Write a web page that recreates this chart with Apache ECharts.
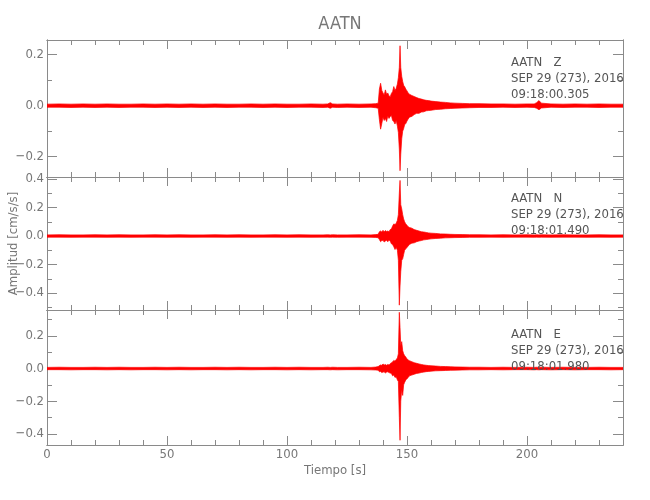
<!DOCTYPE html>
<html>
<head>
<meta charset="utf-8">
<script src="https://cdn.jsdelivr.net/npm/echarts@6/dist/echarts.min.js"></script>
<style>html,body{margin:0;padding:0;background:#fff}#c{width:650px;height:500px}</style>
</head>
<body>
<div id="c"></div>
<script>
// ---- data: envelope (max / min per time window) ----
const times = [
  0,5,10,15,20,25,30,35,
  40,45,50,55,60,65,70,75,
  80,85,90,95,100,105,110,115,
  117,118,119,121,125,130,135,137,
  138,138.5,139,139.5,140,140.5,141,141.5,
  142,142.5,143,143.5,144,144.5,145,145.5,
  146,146.4,146.8,147.1,147.4,147.8,148.2,148.6,
  149,149.5,150,150.5,151,152,153,154,
  155,156,157,158,159,160,
  162,164,166,168,170,173,176,180,
  185,190,195,200,203,204,205,206,
  210,215,220,225,230,235,240
];
const zHi = [
  .006,.007,.006,.007,.006,.007,.006,.006,
  .007,.006,.007,.006,.007,.006,.007,.006,
  .006,.007,.006,.007,.006,.006,.007,.006,
  .007,.012,.007,.006,.007,.006,.007,.008,
  .010,.065,.088,.060,.050,.042,.062,.045,
  .050,.038,.035,.048,.055,.075,.060,.068,
  .085,.110,.150,.235,.150,.115,.095,.080,
  .075,.065,.058,.050,.045,.040,.036,.032,
  .028,.026,.023,.021,.020,.018,
  .016,.014,.013,.011,.010,.009,.008,.008,
  .007,.007,.006,.007,.007,.012,.020,.010,
  .007,.006,.007,.006,.007,.006,.006
];
const zLo = [
  -.006,-.006,-.007,-.006,-.007,-.006,-.007,-.006,
  -.006,-.007,-.006,-.007,-.006,-.007,-.006,-.007,
  -.006,-.006,-.007,-.006,-.007,-.006,-.006,-.007,
  -.006,-.010,-.006,-.007,-.006,-.007,-.006,-.008,
  -.010,-.055,-.092,-.070,-.045,-.058,-.050,-.062,
  -.040,-.050,-.042,-.038,-.058,-.062,-.072,-.058,
  -.080,-.105,-.170,-.255,-.190,-.130,-.100,-.090,
  -.075,-.070,-.060,-.052,-.045,-.042,-.035,-.030,
  -.030,-.025,-.024,-.020,-.019,-.018,
  -.015,-.014,-.012,-.011,-.010,-.009,-.008,-.007,
  -.007,-.006,-.007,-.006,-.007,-.010,-.016,-.009,
  -.006,-.007,-.006,-.006,-.007,-.006,-.006
];
const nHi = [
  .008,.009,.008,.008,.009,.008,.009,.008,
  .008,.009,.008,.009,.008,.008,.009,.008,
  .009,.008,.008,.009,.008,.009,.008,.008,
  .009,.008,.009,.008,.008,.009,.008,.010,
  .012,.030,.035,.028,.040,.030,.038,.032,
  .035,.030,.045,.050,.070,.085,.080,.090,
  .110,.150,.300,.390,.220,.190,.150,.120,
  .100,.085,.075,.065,.060,.055,.045,.040,
  .035,.030,.028,.025,.022,.020,
  .018,.015,.014,.012,.011,.010,.009,.009,
  .008,.009,.008,.009,.008,.009,.008,.009,
  .008,.009,.008,.008,.009,.008,.008
];
const nLo = [
  -.008,-.008,-.009,-.008,-.008,-.009,-.008,-.009,
  -.008,-.008,-.009,-.008,-.009,-.008,-.008,-.009,
  -.008,-.009,-.008,-.008,-.009,-.008,-.009,-.008,
  -.008,-.009,-.008,-.009,-.008,-.008,-.009,-.010,
  -.012,-.025,-.040,-.032,-.030,-.042,-.035,-.030,
  -.040,-.028,-.035,-.055,-.060,-.075,-.095,-.080,
  -.100,-.170,-.485,-.350,-.250,-.170,-.160,-.130,
  -.100,-.090,-.080,-.070,-.060,-.050,-.048,-.040,
  -.035,-.032,-.027,-.025,-.022,-.020,
  -.017,-.015,-.013,-.012,-.011,-.010,-.009,-.009,
  -.008,-.009,-.008,-.008,-.009,-.008,-.009,-.008,
  -.009,-.008,-.008,-.009,-.008,-.009,-.008
];
const eHi = [
  .007,.008,.007,.007,.008,.007,.008,.007,
  .007,.008,.007,.008,.007,.007,.008,.007,
  .008,.007,.007,.008,.007,.008,.007,.007,
  .008,.007,.008,.007,.007,.008,.007,.009,
  .012,.018,.022,.020,.028,.022,.025,.020,
  .025,.022,.030,.035,.040,.050,.045,.055,
  .065,.090,.345,.250,.140,.165,.110,.090,
  .080,.070,.060,.052,.048,.042,.036,.032,
  .028,.025,.022,.020,.018,.017,
  .015,.013,.012,.011,.010,.009,.008,.008,
  .007,.008,.007,.008,.007,.008,.007,.008,
  .007,.008,.007,.007,.008,.007,.007
];
const eLo = [
  -.007,-.007,-.008,-.007,-.007,-.008,-.007,-.008,
  -.007,-.007,-.008,-.007,-.008,-.007,-.007,-.008,
  -.007,-.008,-.007,-.007,-.008,-.007,-.008,-.007,
  -.007,-.008,-.007,-.008,-.007,-.007,-.008,-.009,
  -.010,-.020,-.018,-.025,-.022,-.020,-.028,-.022,
  -.020,-.025,-.028,-.030,-.045,-.040,-.055,-.050,
  -.070,-.080,-.300,-.440,-.200,-.130,-.165,-.100,
  -.085,-.070,-.062,-.055,-.045,-.040,-.035,-.030,
  -.028,-.024,-.022,-.019,-.018,-.016,
  -.014,-.013,-.012,-.011,-.010,-.009,-.008,-.008,
  -.007,-.008,-.007,-.007,-.008,-.007,-.008,-.007,
  -.008,-.007,-.008,-.007,-.007,-.008,-.007
];

// ---- tick labels ----
const xMajorTicks = [0, 50, 100, 150, 200];
const xMinorTicks = [0,10,20,30,40,50,60,70,80,90,100,110,120,130,140,150,160,170,180,190,200,210,220,230,240];
const yMajorTicks = [[-0.2, 0, 0.2], [-0.4, -0.2, 0, 0.2, 0.4], [-0.4, -0.2, 0, 0.2]];
const yMinorTicks = [[-0.1, 0.1], [-0.5, -0.3, -0.1, 0.1, 0.3], [-0.3, -0.1, 0.1, 0.3]];
const yRanges = [[-0.2796, 0.2576], [-0.519, 0.414], [-0.469, 0.359]];

const components = ['Z', 'N', 'E'];
const stationName = 'AATN';
const dateText = 'SEP 29 (273), 2016';
const startTimes = ['09:18:00.305', '09:18:01.490', '09:18:01.980'];
const traces = [[zHi, zLo], [nHi, nLo], [eHi, eLo]];

// ---- layout / style ----
const FONT = "'Liberation Sans Narrow', 'DejaVu Sans Condensed', 'Liberation Sans', sans-serif";
const AXIS_COLOR = '#8a8a8a';
const LABEL_COLOR = '#777';
const grids = [
  {left: 47, right: 27, top: 40, height: 137},
  {left: 47, right: 27, top: 177, height: 133},
  {left: 47, right: 27, top: 310, height: 135}
];
const annotTops = [50, 186, 322];

const xAxes = [], yAxes = [], series = [];
const fmtY = v => (v < 0 ? '\u2212' : '') + Math.abs(v).toFixed(1);

grids.forEach((g, i) => {
  g.outerBoundsMode = 'none';
  ['bottom', 'top'].forEach(pos => {
    [[xMajorTicks, 9], [xMinorTicks, 5]].forEach(([ticks, len], k) => {
      const showLab = (pos === 'bottom' && k === 0 && i === 2);
      xAxes.push({
        gridIndex: i, type: 'value', position: pos, min: 0, max: 240,
        axisLine: {show: true, onZero: false, lineStyle: {color: AXIS_COLOR, width: 1}},
        axisTick: {show: true, inside: true, length: len, customValues: ticks, lineStyle: {color: AXIS_COLOR}},
        axisLabel: {show: showLab, customValues: ticks, margin: 3, color: LABEL_COLOR, fontFamily: FONT, fontSize: 13},
        splitLine: {show: false},
        name: showLab ? 'Tiempo [s]' : '',
        nameLocation: 'middle', nameGap: 19,
        nameTextStyle: {color: LABEL_COLOR, fontFamily: FONT, fontSize: 13}
      });
    });
  });
  ['left', 'right'].forEach(pos => {
    [[yMajorTicks[i], 10], [yMinorTicks[i], 5]].forEach(([ticks, len], k) => {
      const showLab = (pos === 'left' && k === 0);
      const showName = showLab && i === 1;
      yAxes.push({
        gridIndex: i, type: 'value', position: pos, min: yRanges[i][0], max: yRanges[i][1],
        axisLine: {show: true, onZero: false, lineStyle: {color: AXIS_COLOR, width: 1}},
        axisTick: {show: true, inside: true, length: len, customValues: ticks, lineStyle: {color: AXIS_COLOR}},
        axisLabel: {show: showLab, customValues: ticks, margin: 3, formatter: fmtY, color: LABEL_COLOR, fontFamily: FONT, fontSize: 13},
        splitLine: {show: false},
        name: showName ? 'Amplitud [cm/s/s]' : '',
        nameLocation: 'middle', nameGap: 27, nameMoveOverlap: false,
        nameTextStyle: {color: LABEL_COLOR, fontFamily: FONT, fontSize: 13}
      });
    });
  });
  const [hi, lo] = traces[i];
  series.push({
    type: 'custom',
    xAxisIndex: i * 4, yAxisIndex: i * 4,
    clip: true,
    silent: true,
    encode: {x: 0, y: [1, 2]},
    data: times.map((t, j) => [t, hi[j], lo[j]]),
    renderItem: function (params, api) {
      if (params.dataIndex !== 0) return null;
      const pts = [];
      for (let j = 0; j < times.length; j++) pts.push(api.coord([times[j], hi[j]]));
      for (let j = times.length - 1; j >= 0; j--) pts.push(api.coord([times[j], lo[j]]));
      return {type: 'polygon', shape: {points: pts}, style: {fill: '#ff0000', stroke: '#ff0000', lineWidth: 0.7}};
    }
  });
});

const titles = [{
  text: stationName, left: 335, top: 10, textAlign: 'center',
  textStyle: {color: '#777', fontFamily: FONT, fontSize: 18, fontWeight: 'normal'}
}];
components.forEach((c, i) => {
  titles.push({
    text: stationName + '   ' + c + '\n' + dateText + '\n' + startTimes[i],
    left: 506, top: annotTops[i],
    textStyle: {color: '#555', fontFamily: FONT, fontSize: 13, fontWeight: 'normal', lineHeight: 16}
  });
});

const chart = echarts.init(document.getElementById('c'), null, {renderer: 'canvas'});
chart.setOption({
  animation: false,
  backgroundColor: '#fff',
  title: titles,
  grid: grids,
  xAxis: xAxes,
  yAxis: yAxes,
  series: series
});
</script>
</body>
</html>
